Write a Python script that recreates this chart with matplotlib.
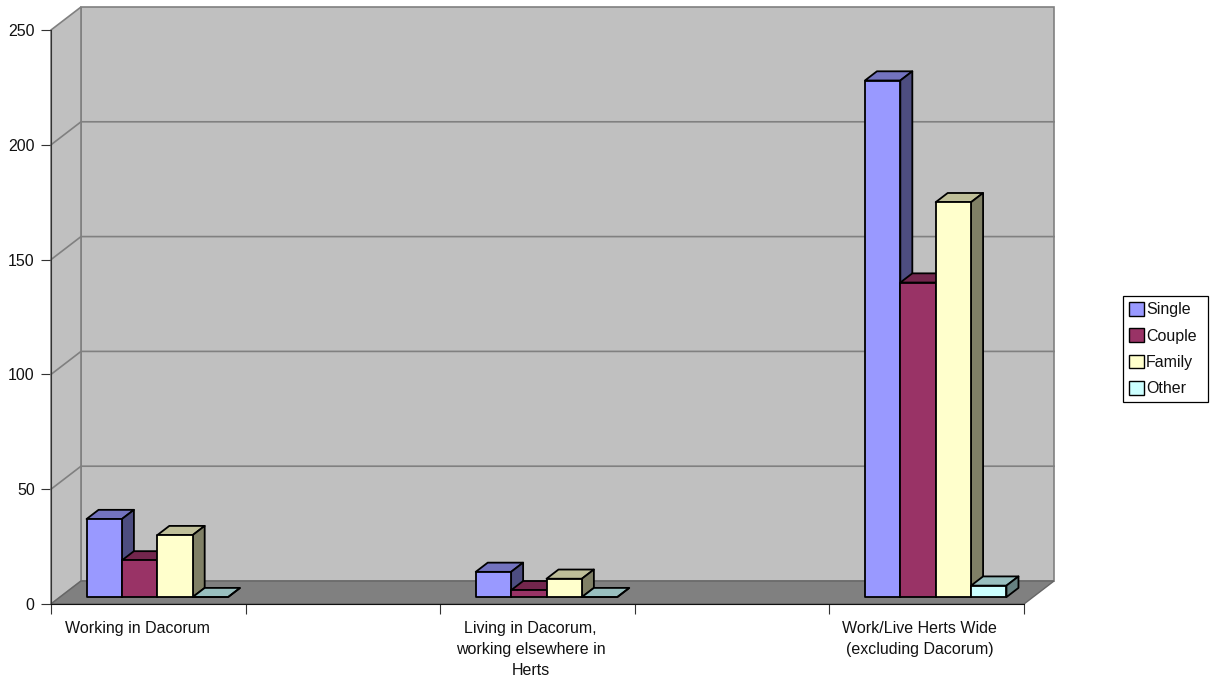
import matplotlib.pyplot as plt
from matplotlib.patches import Polygon, Patch

plt.rcParams['font.family'] = ['Liberation Sans', 'DejaVu Sans']

# every other slot on the category axis is empty
categories = ['Working in Dacorum', '',
              'Living in Dacorum,\nworking elsewhere in\nHerts', '',
              'Work/Live Herts Wide\n(excluding Dacorum)']
series = ['Single', 'Couple', 'Family', 'Other']
single = [34, None, 11, None, 225]
couple = [16, None, 3, None, 137]
family = [27, None, 8, None, 172]
other = [0, None, 0, None, 5]
y_ticks = [0, 50, 100, 150, 200, 250]

front_colors = ['#9999FF', '#993366', '#FFFFCC', '#CCFFFF']
top_colors = ['#7373BF', '#73264D', '#BFBF99', '#99BFBF']
side_colors = ['#4D4D80', '#4D1A33', '#808066', '#668080']

# oblique projection: full floor depth in pixels
W, H = 1215, 680
AX_L, AX_R, AX_B, AX_T = 51, 1024, 604, 30
DEPTH_X, DEPTH_Y = 30, 23
n_slots = len(categories)
px_x = n_slots / (AX_R - AX_L)
px_y = 250 / (AX_B - AX_T)


def proj(x, v, d):
    # d is depth as a fraction of the floor, 0 at the front, 1 at the back wall
    return (x + d * DEPTH_X * px_x, v + d * DEPTH_Y * px_y)


fig = plt.figure(figsize=(W / 100, H / 100), dpi=100)
ax = fig.add_axes([AX_L / W, 1 - AX_B / H, (AX_R - AX_L) / W, (AX_B - AX_T) / H])
ax.set_xlim(0, n_slots)
ax.set_ylim(0, 250)
ax.patch.set_visible(False)

wall = '#C0C0C0'
floor = '#808080'
grid = '#808080'
top = y_ticks[-1]

# back wall, side wall and floor
ax.add_patch(Polygon([proj(0, 0, 1), proj(n_slots, 0, 1), proj(n_slots, top, 1), proj(0, top, 1)],
                     fc=wall, ec=grid, lw=1.2, clip_on=False, zorder=1))
ax.add_patch(Polygon([proj(0, 0, 0), proj(0, 0, 1), proj(0, top, 1), proj(0, top, 0)],
                     fc=wall, ec=grid, lw=1.2, clip_on=False, zorder=1))
ax.add_patch(Polygon([proj(0, 0, 0), proj(n_slots, 0, 0), proj(n_slots, 0, 1), proj(0, 0, 1)],
                     fc=floor, ec='#666666', lw=1, clip_on=False, zorder=1))

for t in y_ticks[1:-1]:
    a, b, c = proj(0, t, 0), proj(0, t, 1), proj(n_slots, t, 1)
    ax.plot([a[0], b[0], c[0]], [a[1], b[1], c[1]], color=grid, lw=1.2,
            clip_on=False, zorder=2)

# bars, painted left to right so each one hides its neighbour's side
bar_w = 1 / 5.5
gap = 0.75 * bar_w
d0, d1 = 0.3, 0.7
values = [single, couple, family, other]
z = 3
for i in range(n_slots):
    for j in range(len(series)):
        v = values[j][i]
        if v is None:
            continue
        x0 = i + gap + j * bar_w
        x1 = x0 + bar_w
        kw = dict(ec='black', lw=1.3, joinstyle='round', clip_on=False, zorder=z)
        ax.add_patch(Polygon([proj(x0, v, d0), proj(x1, v, d0), proj(x1, v, d1), proj(x0, v, d1)],
                             fc=top_colors[j], **kw))
        ax.add_patch(Polygon([proj(x1, 0, d0), proj(x1, 0, d1), proj(x1, v, d1), proj(x1, v, d0)],
                             fc=side_colors[j], **kw))
        ax.add_patch(Polygon([proj(x0, 0, d0), proj(x1, 0, d0), proj(x1, v, d0), proj(x0, v, d0)],
                             fc=front_colors[j], **kw))
        z += 1

for s in ['top', 'right']:
    ax.spines[s].set_visible(False)
ax.spines['left'].set_color('#333333')
ax.spines['bottom'].set_color('#111111')
ax.spines['left'].set_zorder(50)
ax.spines['bottom'].set_zorder(50)

ax.set_yticks(y_ticks)
ax.tick_params(axis='y', length=7.2, width=0.8, color='#333333', labelsize=11.5, pad=4.5,
               labelcolor='#111111')
ax.set_xticks(range(n_slots + 1))
ax.set_xticklabels([])
ax.tick_params(axis='x', which='major', length=7.2, width=0.8, color='#333333')
ax.set_xticks([0.444, 2.465, 4.464], minor=True)
ax.set_xticklabels([c for c in categories if c], minor=True, fontsize=11.5, linespacing=1.5)
ax.tick_params(axis='x', which='minor', length=0, pad=12, labelcolor='#111111')

handles = [Patch(fc=c, ec='black', lw=1) for c in front_colors]
leg = fig.legend(handles, series, loc='upper left',
                 bbox_to_anchor=(1123 / W, 1 - 400 / H, 85 / W, 104 / H), mode='expand',
                 fontsize=11.5, frameon=True, fancybox=False, edgecolor='black', framealpha=1,
                 handlelength=0.95, handleheight=0.95, handletextpad=0.1,
                 labelspacing=0.68, borderpad=0.38, borderaxespad=0, labelcolor='#111111')
leg.get_frame().set_linewidth(0.9)

fig.savefig('out.png', dpi=100)
